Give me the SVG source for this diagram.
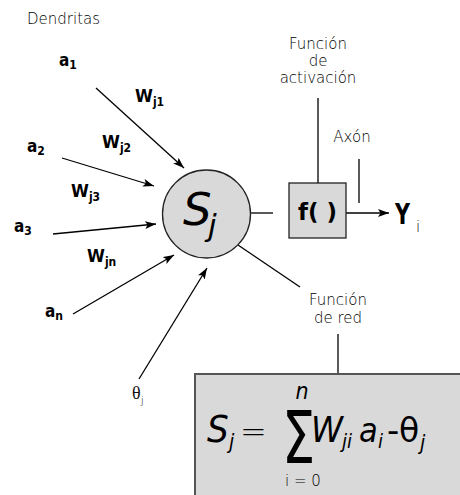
<svg xmlns="http://www.w3.org/2000/svg" width="460" height="495" viewBox="0 0 460 495">
<style>
.lbl{font-family:"DejaVu Sans","Noto Sans",sans-serif;font-weight:200;font-size:15px;fill:#000}
.bold{font-family:"DejaVu Sans Condensed","DejaVu Sans",sans-serif;font-stretch:condensed;font-weight:bold;fill:#000}
.it{font-family:"DejaVu Sans Condensed","DejaVu Sans",sans-serif;font-stretch:condensed;font-style:italic;fill:#000}
.ln{stroke:#000;stroke-width:1.3;fill:none}
</style>
<defs>
<marker id="ah" markerUnits="userSpaceOnUse" markerWidth="12" markerHeight="9" refX="11" refY="4" orient="auto">
<path d="M0,0 L11,4 L0,8 L2.5,4 z" fill="#000"/>
</marker>
</defs>
<rect width="460" height="495" fill="#fff"/>

<g id="connectors">
<line class="ln" x1="96" y1="88" x2="184" y2="168" marker-end="url(#ah)"/>
<line class="ln" x1="62" y1="158" x2="154" y2="186" marker-end="url(#ah)"/>
<line class="ln" x1="53" y1="234" x2="156" y2="224" marker-end="url(#ah)"/>
<line class="ln" x1="73" y1="314" x2="174" y2="255" marker-end="url(#ah)"/>
<line class="ln" x1="139" y1="379" x2="207" y2="268" marker-end="url(#ah)"/>
<line class="ln" x1="251" y1="213" x2="273" y2="213"/>
<line class="ln" x1="346" y1="213" x2="389" y2="213" marker-end="url(#ah)"/>
<line class="ln" x1="318" y1="98" x2="318" y2="183"/>
<line class="ln" x1="359" y1="159" x2="359" y2="203"/>
<line class="ln" x1="238" y1="245" x2="300" y2="287"/>
<line class="ln" x1="338" y1="334" x2="338" y2="374"/>
</g>

<g id="dendritas"><text class="lbl" x="27" y="24">Dendritas</text></g>

<g id="inputs" font-size="17">
<text class="bold" x="59" y="66">a<tspan font-size="12" dy="3">1</tspan></text>
<text class="bold" x="27" y="152">a<tspan font-size="12" dy="3">2</tspan></text>
<text class="bold" x="14" y="232">a<tspan font-size="12" dy="3">3</tspan></text>
<text class="bold" x="45" y="317">a<tspan font-size="12" dy="3">n</tspan></text>
</g>

<g id="weights" font-size="18">
<text class="bold" x="135" y="102">W<tspan font-size="12" dy="4">j1</tspan></text>
<text class="bold" x="102" y="148">W<tspan font-size="12" dy="4">j2</tspan></text>
<text class="bold" x="71" y="197">W<tspan font-size="12" dy="4">j3</tspan></text>
<text class="bold" x="87" y="262">W<tspan font-size="12" dy="4">jn</tspan></text>
</g>

<g id="theta">
<text x="132" y="399" font-family="Liberation Serif,serif" font-size="18" fill="#111">θ<tspan font-family="DejaVu Sans,sans-serif" font-weight="200" font-size="11" dy="5">j</tspan></text>
</g>

<g id="neuron">
<circle cx="206.5" cy="214" r="44" fill="#d9d9d9" stroke="#222" stroke-width="1.3"/>
<text x="183" y="225" font-family="DejaVu Sans,sans-serif" font-style="italic" font-size="45">S<tspan x="208" dy="11" font-size="31">j</tspan></text>
</g>

<g id="activation">
<rect x="289" y="183" width="57" height="55" fill="#d9d9d9" stroke="#222" stroke-width="1.3"/>
<text x="317.5" y="220" text-anchor="middle" font-family="DejaVu Sans,sans-serif" font-weight="bold" font-size="23">f( )</text>
</g>

<g id="output">
<text x="395" y="224" font-family="DejaVu Sans,sans-serif" font-weight="bold" font-size="29" textLength="15" lengthAdjust="spacingAndGlyphs">Y</text>
<text x="416" y="232" class="lbl" font-size="12">i</text>
</g>

<g id="label-activacion">
<text class="lbl" text-anchor="middle" x="318" y="49">Función</text>
<text class="lbl" text-anchor="middle" x="318" y="66">de</text>
<text class="lbl" text-anchor="middle" x="318" y="83">activación</text>
</g>

<g id="label-axon"><text class="lbl" text-anchor="middle" x="352" y="142">Axón</text></g>

<g id="label-red">
<text class="lbl" text-anchor="middle" x="338" y="305">Función</text>
<text class="lbl" text-anchor="middle" x="338" y="323">de red</text>
</g>

<g id="formula">
<rect x="195" y="374" width="280" height="140" fill="#d9d9d9" stroke="#555" stroke-width="2"/>
<text class="it" x="207" y="442" font-size="38">S</text>
<text class="it" x="229" y="449" font-size="21">j</text>
<text x="240" y="442" font-family="DejaVu Sans,sans-serif" font-weight="200" font-size="32">=</text>
<text x="302" y="399" text-anchor="middle" class="it" font-size="23">n</text>
<text transform="translate(282,463) scale(0.72,1)" font-family="DejaVu Sans,sans-serif" font-size="73">Σ</text>
<text x="303" y="486" text-anchor="middle" class="lbl" font-size="16">i = 0</text>
<text class="it" x="311" y="442" font-size="36">W</text>
<text class="it" x="342" y="448" font-size="20">ji</text>
<text class="it" x="359" y="442" font-size="34">a</text>
<text class="it" x="378" y="448" font-size="20">i</text>
<text x="387" y="442" font-family="DejaVu Sans,sans-serif" font-size="34">-</text>
<text x="399" y="442" font-family="DejaVu Sans,sans-serif" font-size="33">θ</text>
<text class="it" x="420" y="450" font-size="21">j</text>
</g>
</svg>
